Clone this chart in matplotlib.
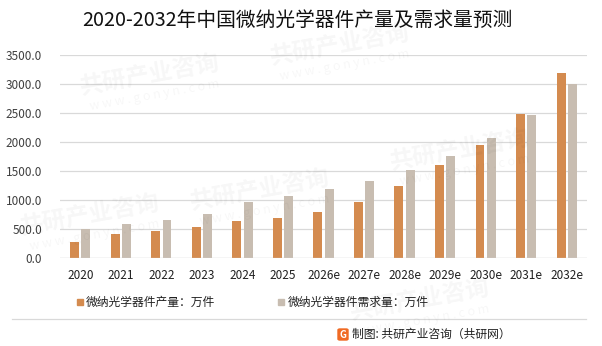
import matplotlib.pyplot as plt
import matplotlib.patches as mpatches

plt.rcParams['font.family'] = ['Noto Sans CJK SC', 'DejaVu Sans']

years = ['2020', '2021', '2022', '2023', '2024', '2025', '2026e',
         '2027e', '2028e', '2029e', '2030e', '2031e', '2032e']
output = [280, 420, 470, 540, 640, 690, 800, 970, 1250, 1610, 1950, 2490, 3190]
demand = [500, 590, 660, 760, 970, 1070, 1190, 1330, 1520, 1760, 2070, 2470, 3000]
yticks = [0, 500, 1000, 1500, 2000, 2500, 3000, 3500]

label_out = '微纳光学器件产量：万件'
label_dem = '微纳光学器件需求量：万件'
title = '2020-2032年中国微纳光学器件产量及需求量预测'

c_out = '#D48B4F'
c_dem = '#C8BDB1'

W, H = 602, 346
fig = plt.figure(figsize=(W / 100, H / 100), dpi=100)

ax = fig.add_axes([60 / W, 1 - 258 / H, 527 / W, 203 / H])
ax.patch.set_alpha(0)

x = list(range(len(years)))
bw = 0.22
off = 0.14
ax.bar([i - off for i in x], output, width=bw, color=c_out, zorder=3)
ax.bar([i + off for i in x], demand, width=bw, color=c_dem, zorder=3)

ax.set_xlim(-0.5, len(years) - 0.5)
ax.set_ylim(0, 3500)
ax.set_yticks(yticks)
ax.set_yticklabels([f'{v:.1f}' for v in yticks], fontsize=8.5, color='#404040')
ax.set_xticks(x)
ax.set_xticklabels(years, fontsize=8.5, color='#202020')
ax.tick_params(axis='both', length=0)
ax.tick_params(axis='y', pad=13)
ax.tick_params(axis='x', pad=8)
ax.grid(axis='y', color='#D9D9D9', linewidth=0.9, zorder=0)
for s in ax.spines.values():
    s.set_visible(False)
ax.axhline(0, color='#D9D9D9', linewidth=0.9, zorder=4)

# faint watermarks over the chart
for (wx, wy) in [(150, 75), (340, 45), (260, 190), (460, 150), (90, 215), (420, 300)]:
    fig.text(wx / W, 1 - wy / H, '共研产业咨询', fontsize=17, fontweight='bold',
             color='black', alpha=0.035, rotation=10, ha='center', va='center', zorder=10)
    fig.text((wx + 5) / W, 1 - (wy + 20) / H, 'w w w . g o n y n . c o m', fontsize=9,
             color='black', alpha=0.035, rotation=10, ha='center', va='center', zorder=10)

fig.text(297 / W, 1 - 20 / H, title, fontsize=14.2, color='#111111',
         ha='center', va='center')

# legend
fig.patches.append(mpatches.Rectangle((77 / W, 1 - 305 / H), 6 / W, 6 / H,
                                      transform=fig.transFigure, color=c_out))
fig.text(86 / W, 1 - 302 / H, label_out, fontsize=8.5, color='#202020', va='center')
fig.patches.append(mpatches.Rectangle((278 / W, 1 - 305 / H), 6 / W, 6 / H,
                                      transform=fig.transFigure, color=c_dem))
fig.text(288 / W, 1 - 302 / H, label_dem, fontsize=8.5, color='#202020', va='center')

# separator and source
fig.add_artist(plt.Line2D([12 / W, 586 / W], [1 - 319 / H, 1 - 319 / H],
                          color='#D9D9D9', linewidth=0.9))
fig.patches.append(mpatches.FancyBboxPatch((338 / W, 1 - 340 / H), 10 / W, 11 / H,
                                           boxstyle='round,pad=0,rounding_size=0.003',
                                           transform=fig.transFigure, color='#F06A24'))
fig.text(343 / W, 1 - 334.5 / H, 'G', fontsize=7, fontweight='bold', color='white',
         ha='center', va='center')
fig.text(352 / W, 1 - 334 / H, '制图: 共研产业咨询（共研网）', fontsize=8.5,
         color='#202020', va='center')

fig.savefig('out.png', dpi=100)
